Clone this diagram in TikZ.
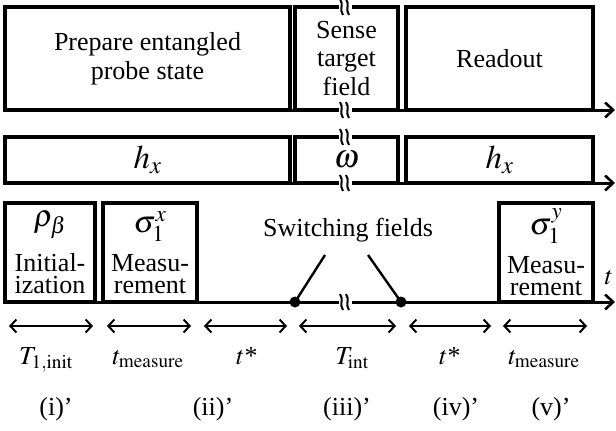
\documentclass[tikz,border=0pt]{standalone}
\usepackage{mathptmx}
\usepackage[no-math]{fontspec}
\setmainfont{Liberation Serif}
\usetikzlibrary{arrows.meta}
\tikzset{
  blk/.style={draw, line width=3.2pt, inner sep=0pt, align=center},
  tight/.style={font=\fontsize{26}{22}\selectfont},
  big/.style={font=\fontsize{33}{34}\selectfont},
  axis/.style={line width=3pt, -{Straight Barb[length=8pt,width=15pt,line width=2.6pt]}},
  span/.style={line width=2pt, {Straight Barb[length=6pt,width=13pt]}-{Straight Barb[length=6pt,width=13pt]}},
  dot/.style={circle, fill, inner sep=0pt, minimum size=11pt},
  brk/.pic={\fill[white] (-6,-8) rectangle (7,8);
            \draw[line width=2pt] (-5,-8) .. controls (-1,-3) and (-6,3) .. (-2,8)
                                  (1,-8) .. controls (5,-3) and (0,3) .. (4,8);}
}
\newcommand{\opmath}[1]{{\fontsize{31}{31}\selectfont$#1$}}
\begin{document}
\begin{tikzpicture}[x=1pt,y=-1pt,font=\fontsize{26}{28.5}\selectfont]
\useasboundingbox (0,0) rectangle (616,431);

% stages
\node[blk, minimum width=285pt, minimum height=103pt] (prep) at (147.5,58.5) {Prepare entangled\\probe state};
\node[blk, minimum width=103pt, minimum height=103pt] (sense) at (346.5,58.5) {Sense\\target\\field};
\node[blk, minimum width=187pt, minimum height=103pt] (read) at (499.5,58.5) {Readout};
\coordinate (a1) at (5,110);  \coordinate (e1) at (615,110);
\draw[axis] (a1) -- (e1);
\pic at (345,7) {brk};  \pic at (345,110) {brk};

% fields
\node[blk, big, minimum width=285pt, minimum height=46pt] (hx1) at (147.5,160) {$h_x$};
\node[blk, big, minimum width=103pt, minimum height=46pt] (om) at (346.5,160) {$\omega$};
\node[blk, big, minimum width=187pt, minimum height=46pt] (hx2) at (499.5,160) {$h_x$};
\coordinate (a2) at (5,183);  \coordinate (e2) at (615,183);
\draw[axis] (a2) -- (e2);
\pic at (345,137) {brk};  \pic at (345,183) {brk};

% protocol
\node[blk, tight, minimum width=90pt, minimum height=99pt] (init) at (50,252.5) {\opmath{\rho_\beta}\\[14pt]Initial-\\ization};
\node[blk, tight, minimum width=94pt, minimum height=99pt] (mx) at (150,252.5) {\opmath{\sigma_1^x}\\[12pt]Measu-\\rement};
\node[blk, tight, minimum width=94pt, minimum height=99pt] (my) at (546,252.5) {\opmath{\sigma_1^y}\\[12pt]Measu-\\rement};
\coordinate (a3) at (5,302);  \coordinate (e3) at (615,302);
\draw[axis] (a3) -- (e3);
\pic at (345,302) {brk};
\node (tlab) at (609,278) {$t$};

\node[dot] (sw1) at (295,302) {};
\node[dot] (sw2) at (401,302) {};
\node (swf) at (348,230) {Switching fields};
\coordinate (sw1u) at (325,255);  \coordinate (sw2u) at (368,255);
\draw[line width=2.4pt] (sw1.center) -- (sw1u)  (sw2.center) -- (sw2u);

% durations
\coordinate (d1l) at (9,326);   \coordinate (d1r) at (93,326);
\coordinate (d2l) at (107,326); \coordinate (d2r) at (191,326);
\coordinate (d3l) at (204,326); \coordinate (d3r) at (287,326);
\coordinate (d4l) at (299,326); \coordinate (d4r) at (396,326);
\coordinate (d5l) at (409,326); \coordinate (d5r) at (491,326);
\coordinate (d6l) at (503,326); \coordinate (d6r) at (587,326);
\draw[span] (d1l) -- (d1r);  \draw[span] (d2l) -- (d2r);  \draw[span] (d3l) -- (d3r);
\draw[span] (d4l) -- (d4r);  \draw[span] (d5l) -- (d5r);  \draw[span] (d6l) -- (d6r);

\node[anchor=base] (t1) at (46,364) {$T_{1,\mathrm{init}}$};
\node[anchor=base] (t2) at (148,364) {$t_{\mathrm{measure}}$};
\node[anchor=base] (t3) at (247,364) {$t$*};
\node[anchor=base] (t4) at (352,364) {$T_{\mathrm{int}}$};
\node[anchor=base] (t5) at (450,364) {$t$*};
\node[anchor=base] (t6) at (544,364) {$t_{\mathrm{measure}}$};

\node[anchor=base] (r1) at (56,415) {(i)’};
\node[anchor=base] (r2) at (213,415) {(ii)’};
\node[anchor=base] (r3) at (347,415) {(iii)’};
\node[anchor=base] (r4) at (456,415) {(iv)’};
\node[anchor=base] (r5) at (551,415) {(v)’};
\end{tikzpicture}
\end{document}
